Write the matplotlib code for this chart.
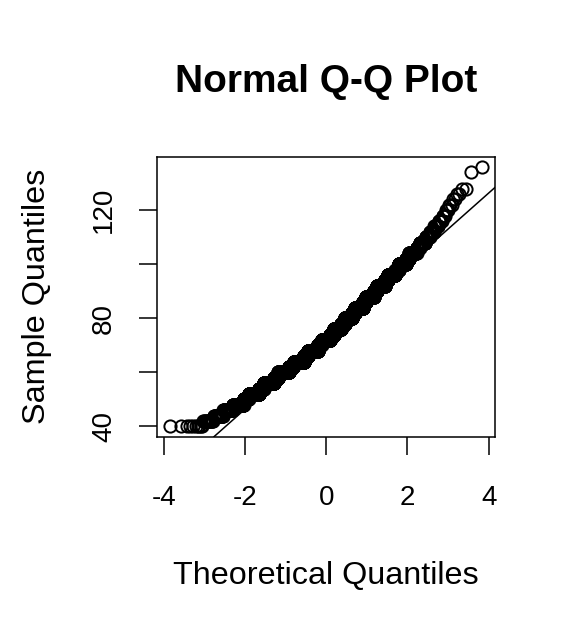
import numpy as np
import matplotlib
matplotlib.use("Agg")
import matplotlib.pyplot as plt
from statistics import NormalDist

# distinct sample values (even numbers) and how often each one occurs
valores = [40, 42, 44, 46, 48, 50, 52, 54, 56, 58, 60, 62, 64, 66, 68, 70,
           72, 74, 76, 78, 80, 82, 84, 86, 88, 90, 92, 94, 96, 98, 100, 102,
           104, 106, 108, 110, 112, 114, 116, 118, 120, 122, 124, 126, 128,
           134, 136]
contagens = [10, 13, 24, 43, 87, 59, 180, 103, 317, 173, 504, 259, 678, 312,
             739, 321, 723, 287, 605, 239, 522, 211, 450, 172, 357, 132, 260,
             90, 168, 58, 105, 35, 63, 19, 29, 16, 12, 9, 6, 4, 3, 3, 2, 2, 2,
             1, 1]

x_ticks = [-4, -2, 0, 2, 4]
y_ticks = [40, 60, 80, 100, 120]
y_tick_labels = ["40", "", "80", "", "120"]

plt.rcParams["font.family"] = ["Liberation Sans", "DejaVu Sans"]


def quantis_teoricos(n):
    # same as R's ppoints() for n > 10
    normal = NormalDist()
    p = (np.arange(1, n + 1) - 0.5) / n
    return np.array([normal.inv_cdf(pi) for pi in p])


def faixa_r(v):
    lo, hi = float(np.min(v)), float(np.max(v))
    d = 0.04 * (hi - lo)
    return lo - d, hi + d


amostra = np.repeat(valores, contagens).astype(float)
teoricos = quantis_teoricos(len(amostra))

# qqline: through the first and third quartiles
normal = NormalDist()
q_y = np.quantile(amostra, [0.25, 0.75])
q_x = np.array([normal.inv_cdf(0.25), normal.inv_cdf(0.75)])
inclinacao = (q_y[1] - q_y[0]) / (q_x[1] - q_x[0])
intercepto = q_y[0] - inclinacao * q_x[0]

W, H = 576, 633
fig = plt.figure(figsize=(W / 100, H / 100), dpi=100)
box = (157.3, 156.7, 495.0, 436.7)  # left, top, right, bottom in px
ax = fig.add_axes([box[0] / W, 1 - box[3] / H, (box[2] - box[0]) / W, (box[3] - box[1]) / H])

ax.plot(teoricos, amostra, linestyle="none", marker="o", markersize=8.8,
        markerfacecolor="none", markeredgecolor="black", markeredgewidth=1.4)
ax.axline((0, intercepto), slope=inclinacao, color="black", linewidth=1.1)

ax.set_xlim(*faixa_r(teoricos))
ax.set_ylim(*faixa_r(amostra))

ax.set_xticks(x_ticks)
ax.set_xticklabels([str(t) for t in x_ticks])
ax.set_yticks(y_ticks)
ax.set_yticklabels(y_tick_labels, rotation=90, va="center")

for lado in ax.spines.values():
    lado.set_linewidth(1.1)
ax.tick_params(direction="out", length=13, width=1.1, labelsize=20)
ax.tick_params(axis="x", pad=22)
ax.tick_params(axis="y", pad=16)

ax.set_xlabel("Theoretical Quantiles", fontsize=23.3)
ax.xaxis.set_label_coords(0.5, -(584 - box[3]) / (box[3] - box[1]))
ax.xaxis.label.set_va("baseline")
ax.set_ylabel("Sample Quantiles", fontsize=23.3)
ax.yaxis.set_label_coords(-(box[0] - 37) / (box[2] - box[0]), 0.5)
ax.yaxis.label.set_va("center")

ax.set_title("Normal Q-Q Plot", fontsize=28, fontweight="bold",
             y=1 + (box[1] - 100) / (box[3] - box[1]), va="baseline")

fig.savefig("out.png", dpi=100)
